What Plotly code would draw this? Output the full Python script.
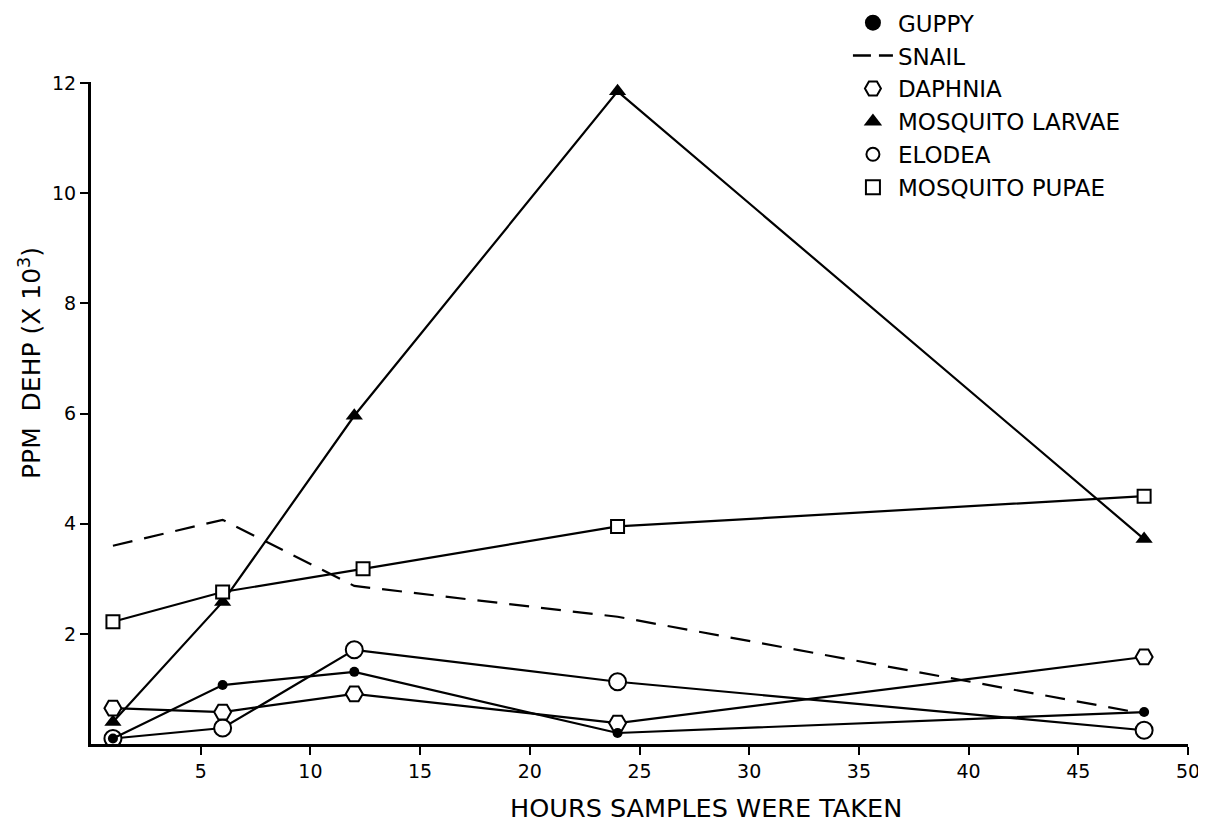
import plotly.graph_objects as go

# ---- data ----
hours = [1, 6, 12, 24, 48]
hours_pupae = [1, 6, 12.4, 24, 48]

guppy = [0.10, 1.07, 1.31, 0.20, 0.58]
snail = [3.60, 4.07, 2.87, 2.31, 0.55]
daphnia = [0.65, 0.58, 0.91, 0.38, 1.58]
mosquito_larvae = [0.40, 2.58, 5.96, 11.85, 3.72]
elodea = [0.10, 0.29, 1.71, 1.13, 0.25]
mosquito_pupae = [2.22, 2.76, 3.18, 3.95, 4.50]

x_ticks = [5, 10, 15, 20, 25, 30, 35, 40, 45, 50]
y_ticks = [2, 4, 6, 8, 10, 12]

FONT = "DejaVu Sans"
BLACK = "black"
LW = 2.2

fig = go.Figure()

# data traces (not in legend)
fig.add_trace(go.Scatter(x=hours, y=snail, mode="lines",
                         line=dict(color=BLACK, width=LW, dash="20px,12px"),
                         showlegend=False, hoverinfo="skip"))
fig.add_trace(go.Scatter(x=hours, y=mosquito_larvae, mode="lines+markers",
                         line=dict(color=BLACK, width=LW),
                         marker=dict(symbol="triangle-up", size=15, color=BLACK),
                         showlegend=False))
fig.add_trace(go.Scatter(x=hours_pupae, y=mosquito_pupae, mode="lines+markers",
                         line=dict(color=BLACK, width=LW),
                         marker=dict(symbol="square", size=13, color="white",
                                     line=dict(color=BLACK, width=2)),
                         showlegend=False))
fig.add_trace(go.Scatter(x=hours, y=elodea, mode="lines+markers",
                         line=dict(color=BLACK, width=LW),
                         marker=dict(symbol="circle", size=17, color="white",
                                     line=dict(color=BLACK, width=2)),
                         showlegend=False))
fig.add_trace(go.Scatter(x=hours, y=daphnia, mode="lines+markers",
                         line=dict(color=BLACK, width=LW),
                         marker=dict(symbol="hexagon2", size=17, color="white",
                                     line=dict(color=BLACK, width=2)),
                         showlegend=False))
fig.add_trace(go.Scatter(x=hours, y=guppy, mode="lines+markers",
                         line=dict(color=BLACK, width=LW),
                         marker=dict(symbol="circle", size=10, color=BLACK),
                         showlegend=False))

# legend-only entries
legend_items = [
    ("GUPPY", dict(mode="markers", marker=dict(symbol="circle", size=16, color=BLACK))),
    ("SNAIL", dict(mode="lines", line=dict(color=BLACK, width=2.5, dash="18px,8px"))),
    ("DAPHNIA", dict(mode="markers", marker=dict(symbol="hexagon2", size=19, color="white",
                                                  line=dict(color=BLACK, width=2)))),
    ("MOSQUITO LARVAE", dict(mode="markers", marker=dict(symbol="triangle-up", size=17, color=BLACK))),
    ("ELODEA", dict(mode="markers", marker=dict(symbol="circle", size=13, color="white",
                                                 line=dict(color=BLACK, width=2)))),
    ("MOSQUITO PUPAE", dict(mode="markers", marker=dict(symbol="square", size=14, color="white",
                                                         line=dict(color=BLACK, width=2)))),
]
for i, (name, kw) in enumerate(legend_items):
    fig.add_trace(go.Scatter(x=[None], y=[None], name=name, legendgroup=f"g{i}",
                             showlegend=True, **kw))

axis_common = dict(
    showline=True, linecolor=BLACK, linewidth=3,
    ticks="outside", tickcolor=BLACK, tickwidth=2, ticklen=8,
    showgrid=False, zeroline=False,
    tickfont=dict(family=FONT, size=19, color=BLACK),
)

fig.update_layout(
    width=1206, height=823,
    paper_bgcolor="white", plot_bgcolor="white",
    margin=dict(l=83, r=26, t=74, b=87, autoexpand=False),
    font=dict(family=FONT, color=BLACK),
    xaxis=dict(range=[0, 50], tickvals=x_ticks, **axis_common),
    yaxis=dict(range=[0, 12.02], tickvals=y_ticks, **axis_common),
    legend=dict(x=0.690, y=1.122, xanchor="left", yanchor="top",
                bgcolor="rgba(0,0,0,0)", font=dict(family=FONT, size=23, color=BLACK),
                tracegroupgap=0, itemwidth=40),
    annotations=[
        dict(text="HOURS SAMPLES WERE TAKEN", xref="paper", yref="paper",
             x=0.561, y=-0.097, xanchor="center", yanchor="middle", showarrow=False,
             font=dict(family=FONT, size=25.5, color=BLACK)),
        dict(text="PPM  DEHP (X 10<sup>3</sup>)", xref="paper", yref="paper",
             x=-0.0556, y=0.5755, xanchor="center", yanchor="middle", showarrow=False,
             textangle=-90, font=dict(family=FONT, size=25, color=BLACK)),
    ],
)

fig.write_html("out.html")
